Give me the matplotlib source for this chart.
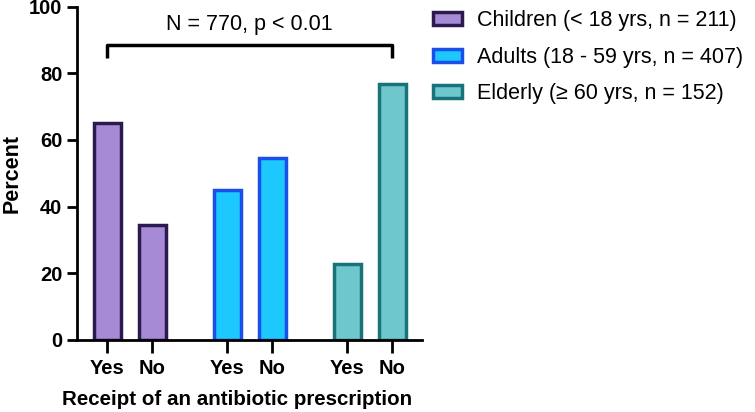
import matplotlib.pyplot as plt
from matplotlib.patches import Patch

plt.rcParams.update({"font.family": ["Liberation Sans", "DejaVu Sans"], "font.size": 14.5})

groups = ["Children (< 18 yrs, n = 211)", "Adults (18 - 59 yrs, n = 407)", "Elderly (≥ 60 yrs, n = 152)"]
yes_pct = [65.2, 44.9, 22.8]
no_pct = [34.5, 54.6, 76.8]
tick_labels = ["Yes", "No"]
fills = ["#A68AD5", "#1DC8FE", "#6EC7CC"]
edges = ["#2B1A4D", "#1B4EEA", "#1A737B"]

fig = plt.figure(figsize=(7.55, 4.12), dpi=100)
ax = fig.add_axes([0.102, 0.175, 0.457, 0.809])

gap = 2.667
xs, labels = [], []
for i, (g, y, n) in enumerate(zip(groups, yes_pct, no_pct)):
    pos = [i * gap, i * gap + 1]
    ax.bar(pos, [y, n], width=0.6, color=fills[i], edgecolor=edges[i], linewidth=2.5, zorder=2)
    xs += pos
    labels += tick_labels

# significance bracket
x0, x1 = xs[0], xs[-1]
ax.plot([x0, x0, x1, x1], [84.5, 88.5, 88.5, 84.5], color="black", lw=2.5, solid_capstyle="butt", clip_on=False)
ax.text((x0 + x1) / 2, 94.5, "N = 770, p < 0.01", ha="center", va="center", fontsize=15.5)

ax.set_xlim(-0.667, xs[-1] + 0.667)
ax.set_ylim(0, 100)
ax.set_yticks([0, 20, 40, 60, 80, 100])
ax.set_xticks(xs)
ax.set_xticklabels(labels, fontweight="bold")
for lab in ax.get_yticklabels():
    lab.set_fontweight("bold")
ax.tick_params(axis="both", width=2, length=7, labelsize=14.5)
ax.tick_params(axis="x", length=9, pad=5)
ax.set_ylabel("Percent", fontweight="bold", fontsize=15.5)
ax.yaxis.set_label_coords(-0.158, 0.5)
ax.set_xlabel("Receipt of an antibiotic prescription", fontweight="bold", fontsize=14.8)
ax.xaxis.set_label_coords(0.464, -0.15)
ax.spines[["top", "right"]].set_visible(False)
ax.spines[["left", "bottom"]].set_linewidth(2)

handles = [Patch(facecolor=f, edgecolor=e, linewidth=2.5) for f, e in zip(fills, edges)]
fig.legend(handles, groups, loc="upper left", bbox_to_anchor=(0.548, 1.022), frameon=False,
           fontsize=15.5, handlelength=1.35, handleheight=0.55, labelspacing=0.72, handletextpad=0.7)

fig.savefig("out.png", dpi=100)
